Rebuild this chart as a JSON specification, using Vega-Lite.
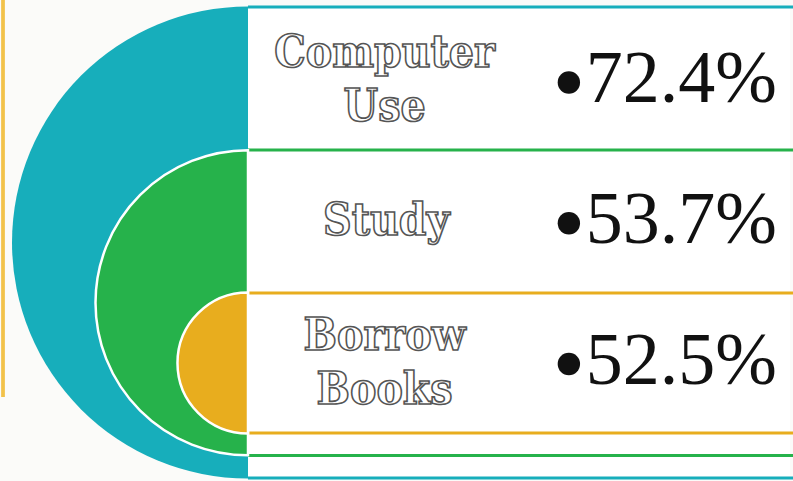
{
  "$schema": "https://vega.github.io/schema/vega-lite/v6.json",
  "width": 793,
  "height": 481,
  "autosize": "none",
  "padding": 0,
  "background": "#fbfbf9",
  "config": {"view": {"stroke": null}},
  "data": {
    "values": [
      {"category": "Computer Use", "share": 0.724},
      {"category": "Study", "share": 0.537},
      {"category": "Borrow Books", "share": 0.525}
    ]
  },
  "layer": [
    {
      "mark": {"type": "rect", "fill": "#ffffff"},
      "encoding": {
        "x": {"datum": 0, "type": "quantitative", "scale": {"domain": [0, 100], "range": [248, 790]}, "axis": null},
        "x2": {"datum": 100},
        "y": {"datum": 0, "type": "quantitative", "scale": {"domain": [0, 1], "range": [6, 479]}, "axis": null},
        "y2": {"datum": 1}
      }
    },
    {
      "mark": {"type": "rule", "stroke": "#f2c24a", "strokeWidth": 3},
      "encoding": {
        "x": {"datum": -45.2, "type": "quantitative", "scale": {"domain": [0, 100], "range": [248, 790]}, "axis": null},
        "y": {"datum": 0, "type": "quantitative", "scale": {"domain": [0, 1], "range": [0, 397]}, "axis": null},
        "y2": {"datum": 1}
      }
    },
    {
      "mark": {"type": "rule", "strokeWidth": 3},
      "encoding": {
        "x": {"datum": 0, "type": "quantitative", "scale": {"domain": [0, 100], "range": [248, 790]}, "axis": null},
        "x2": {"datum": 103},
        "y": {"field": "category", "type": "nominal", "sort": null, "scale": {"type": "point", "range": [7, 293], "padding": 0}, "axis": null},
        "color": {"field": "category", "type": "nominal", "sort": null, "scale": {"domain": ["Computer Use", "Study", "Borrow Books"], "range": ["#17aebb", "#26b24b", "#e8ad1e"]}, "legend": null}
      }
    },
    {
      "mark": {"type": "rule", "strokeWidth": 3},
      "encoding": {
        "x": {"datum": 0, "type": "quantitative", "scale": {"domain": [0, 100], "range": [248, 790]}, "axis": null},
        "x2": {"datum": 103},
        "y": {"field": "category", "type": "nominal", "sort": null, "scale": {"type": "point", "range": [478, 433], "padding": 0}, "axis": null},
        "color": {"field": "category", "type": "nominal", "sort": null, "legend": null}
      }
    },
    {
      "transform": [{"filter": "datum.category === 'Computer Use'"}],
      "mark": {"type": "arc", "theta": 3.14159265, "theta2": 6.28318531, "radius": 236, "strokeWidth": 0},
      "encoding": {
        "x": {"datum": 0, "type": "quantitative", "scale": {"domain": [0, 100], "range": [248, 790]}, "axis": null},
        "y": {"field": "category", "type": "nominal", "scale": {"type": "point", "domain": ["Computer Use", "Study", "Borrow Books"], "range": [242.5, 363], "padding": 0}, "axis": null},
        "color": {"field": "category", "type": "nominal", "sort": null, "legend": null}
      }
    },
    {
      "transform": [{"filter": "datum.category === 'Study'"}],
      "mark": {"type": "arc", "theta": 3.14159265, "theta2": 6.28318531, "radius": 152.5, "stroke": "#ffffff", "strokeWidth": 2.5},
      "encoding": {
        "x": {"datum": 0, "type": "quantitative", "scale": {"domain": [0, 100], "range": [248, 790]}, "axis": null},
        "y": {"field": "category", "type": "nominal", "scale": {"type": "point", "domain": ["Computer Use", "Study", "Borrow Books"], "range": [242.5, 363], "padding": 0}, "axis": null},
        "color": {"field": "category", "type": "nominal", "sort": null, "legend": null}
      }
    },
    {
      "transform": [{"filter": "datum.category === 'Borrow Books'"}],
      "mark": {"type": "arc", "theta": 3.14159265, "theta2": 6.28318531, "radius": 70.5, "stroke": "#ffffff", "strokeWidth": 2.5},
      "encoding": {
        "x": {"datum": 0, "type": "quantitative", "scale": {"domain": [0, 100], "range": [248, 790]}, "axis": null},
        "y": {"field": "category", "type": "nominal", "scale": {"type": "point", "domain": ["Computer Use", "Study", "Borrow Books"], "range": [242.5, 363], "padding": 0}, "axis": null},
        "color": {"field": "category", "type": "nominal", "sort": null, "legend": null}
      }
    },
    {
      "transform": [{"filter": "datum.category !== 'Study'"}],
      "mark": {"type": "text", "font": "DejaVu Serif Condensed, DejaVu Serif", "fontWeight": "bold", "fontSize": 44, "fill": "#ffffff", "stroke": "#555555", "strokeWidth": 1.6, "align": "center", "baseline": "alphabetic", "lineBreak": " ", "lineHeight": 54},
      "encoding": {
        "x": {"datum": 25.2, "type": "quantitative", "scale": {"domain": [0, 100], "range": [248, 790]}, "axis": null},
        "y": {"field": "category", "type": "nominal", "scale": {"type": "point", "domain": ["Computer Use", "Study", "Borrow Books"], "range": [67, 350], "padding": 0}, "axis": null},
        "text": {"field": "category", "type": "nominal"}
      }
    },
    {
      "transform": [{"filter": "datum.category === 'Study'"}],
      "mark": {"type": "text", "font": "DejaVu Serif Condensed, DejaVu Serif", "fontWeight": "bold", "fontSize": 44, "fill": "#ffffff", "stroke": "#555555", "strokeWidth": 1.6, "align": "center", "baseline": "alphabetic"},
      "encoding": {
        "x": {"datum": 25.5, "type": "quantitative", "scale": {"domain": [0, 100], "range": [248, 790]}, "axis": null},
        "y": {"field": "category", "type": "nominal", "scale": {"type": "point", "domain": ["Computer Use", "Study", "Borrow Books"], "range": [0, 470], "padding": 0}, "axis": null},
        "text": {"field": "category", "type": "nominal"}
      }
    },
    {
      "mark": {"type": "point", "shape": "circle", "filled": true, "fill": "#111111", "opacity": 1, "size": 500},
      "encoding": {
        "x": {"datum": 59.2, "type": "quantitative", "scale": {"domain": [0, 100], "range": [248, 790]}, "axis": null},
        "y": {"field": "category", "type": "nominal", "sort": null, "scale": {"type": "point", "range": [82.5, 364], "padding": 0}, "axis": null}
      }
    },
    {
      "mark": {"type": "text", "font": "Liberation Serif", "fontSize": 74, "fill": "#111111", "align": "right", "baseline": "alphabetic"},
      "encoding": {
        "x": {"datum": 97.6, "type": "quantitative", "scale": {"domain": [0, 100], "range": [248, 790]}, "axis": null},
        "y": {"field": "category", "type": "nominal", "sort": null, "scale": {"type": "point", "range": [102, 384], "padding": 0}, "axis": null},
        "text": {"field": "share", "type": "quantitative", "format": ".1%"}
      }
    }
  ],
  "resolve": {"scale": {"y": "independent"}}
}
